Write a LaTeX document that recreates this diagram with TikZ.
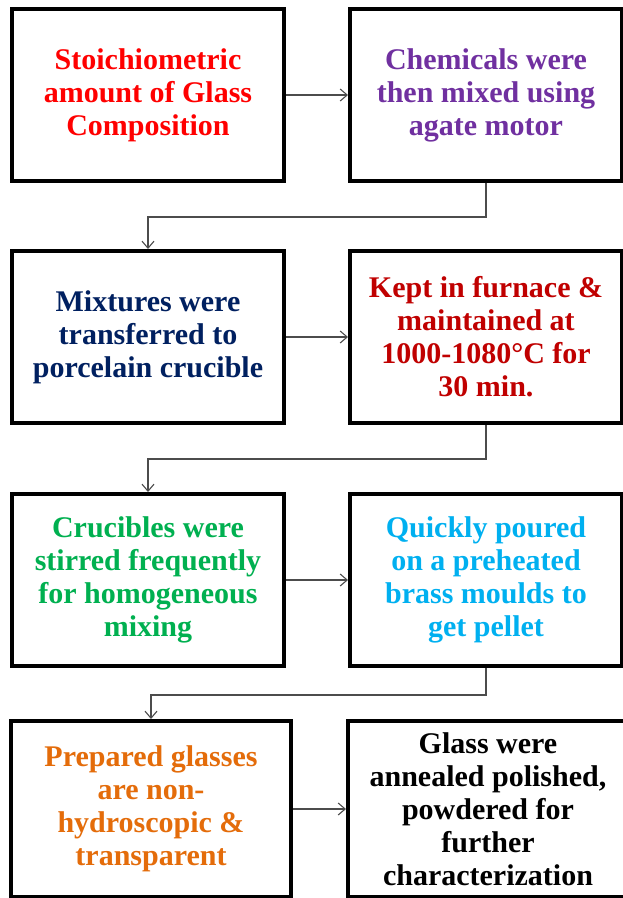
\documentclass[tikz,border=0pt]{standalone}
\usepackage{fontspec}
\setmainfont{Liberation Serif}
\usepackage{xcolor}
\usetikzlibrary{
	positioning,
	arrows.meta,
	shadows
}

\definecolor{stepred}{HTML}{FF0000}
\definecolor{steppurple}{HTML}{7030A0}
\definecolor{stepnavy}{HTML}{002060}
\definecolor{stepdarkred}{HTML}{C00000}
\definecolor{stepgreen}{HTML}{00B050}
\definecolor{stepblue}{HTML}{00B0F0}
\definecolor{steporange}{HTML}{E46C0A}

\begin{document}
\begin{tikzpicture}[
	x=1pt, y=1pt,
	stepbox/.style={draw, line width=4pt, fill=white, align=center,
		minimum width=272pt, minimum height=172pt, inner sep=2pt,
		font=\bfseries\fontsize{30}{33}\selectfont,
		drop shadow={opacity=.3, shadow xshift=1pt, shadow yshift=-2pt}},
	widebox/.style={stepbox, minimum width=280pt, minimum height=176pt},
	link/.style={draw=black!70, line width=1.1pt,
		-{Straight Barb[length=7pt,width=12pt]}},
	node distance=66pt and 62pt
]
	\useasboundingbox (0,0) rectangle (623,-898);

	% first row
	\node [stepbox, text=stepred]                    (s1) at (148,-95)
		{Stoichiometric\\amount of Glass\\Composition};
	\node [stepbox, text=steppurple, right=of s1]     (s2)
		{Chemicals were\\then mixed using\\agate motor};

	% second row
	\node [stepbox, text=stepnavy, below=of s1]       (s3)
		{Mixtures were\\transferred to\\porcelain crucible};
	\node [stepbox, text=stepdarkred, right=of s3]    (s4)
		{Kept in furnace \&\\maintained at\\1000-1080°C for\\30 min.};

	% third row
	\node [stepbox, text=stepgreen, below=67pt of s3] (s5)
		{Crucibles were\\stirred frequently\\for homogeneous\\mixing};
	\node [stepbox, text=stepblue, right=of s5]      (s6)
		{Quickly poured\\on a preheated\\brass moulds to\\get pellet};

	% last row
	\node [widebox, text=steporange, below=51pt of s5, xshift=3pt] (s7)
		{Prepared glasses\\are non-\\hydroscopic \&\\transparent};
	\node [widebox, text=black, right=53pt of s7]     (s8)
		{Glass were\\annealed polished,\\powdered for\\further\\characterization};

	\draw [link] (s1) -- (s2);
	\draw [link] (s3) -- (s4);
	\draw [link] (s5) -- (s6);
	\draw [link] (s7) -- (s8);

	\draw [link] (s2.south) -- ++(0,-34) -| (s3.north);
	\draw [link] (s4.south) -- ++(0,-34) -| (s5.north);
	\draw [link] (s6.south) -- ++(0,-27) -| (s7.north);
\end{tikzpicture}
\end{document}
